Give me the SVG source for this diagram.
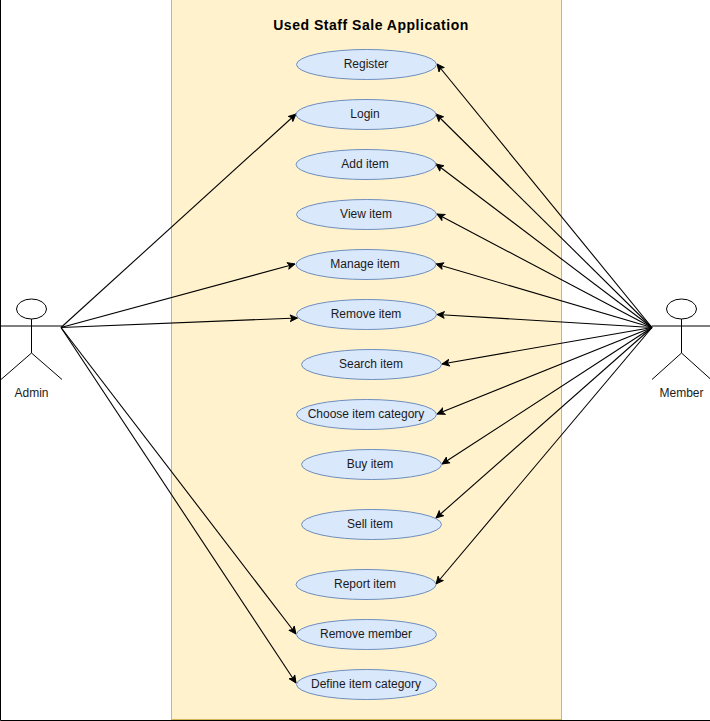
<svg xmlns="http://www.w3.org/2000/svg" width="710" height="721" viewBox="0 0 710 721">
<style>
text{font-family:"Liberation Sans",Arial,sans-serif;font-size:12px;fill:#1a1a1a;text-anchor:middle}
.t{font-size:14px;font-weight:bold;fill:#000;letter-spacing:.52px}
.u ellipse{fill:#dae8fc;stroke:#6c8ebf;stroke-width:1}
.a ellipse,.a path{fill:#fff;stroke:#000;stroke-width:1}
.a path{fill:none}
#connectors line{stroke:#000;stroke-width:1.100;marker-end:url(#arr)}
</style>
<defs><marker id="arr" viewBox="0 0 10 10" refX="9" refY="5" markerWidth="9" markerHeight="9" markerUnits="userSpaceOnUse" orient="auto"><path d="M0.800 1.200L9 5L0.800 8.800L2.800 5Z" fill="#000" stroke="#000" stroke-width="1"/></marker></defs>
<rect x="0" y="0" width="710" height="721" fill="#fff"/>
<path d="M0.500 0V720.500H710" fill="none" stroke="#000" stroke-width="1"/>
<g id="system"><rect x="171.500" y="-1" width="390" height="720.500" fill="#fff2cc" stroke="#d6b656"/>
<text class="t" x="371" y="30">Used Staff Sale Application</text></g>
<g id="connectors">
<line x1="61" y1="327.500" x2="296" y2="114"/>
<line x1="61" y1="327.500" x2="295" y2="264"/>
<line x1="61" y1="327.500" x2="297.500" y2="318"/>
<line x1="61" y1="327.500" x2="296" y2="634"/>
<line x1="61" y1="327.500" x2="296" y2="683"/>
<line x1="652" y1="327.500" x2="437" y2="64"/>
<line x1="652" y1="327.500" x2="436" y2="114"/>
<line x1="652" y1="327.500" x2="436" y2="164"/>
<line x1="652" y1="327.500" x2="437" y2="214"/>
<line x1="652" y1="327.500" x2="436" y2="264"/>
<line x1="652" y1="327.500" x2="437" y2="314.500"/>
<line x1="652" y1="327.500" x2="442" y2="364"/>
<line x1="652" y1="327.500" x2="437" y2="414"/>
<line x1="652" y1="327.500" x2="442" y2="464"/>
<line x1="652" y1="327.500" x2="436" y2="518"/>
<line x1="652" y1="327.500" x2="436" y2="584"/>
</g>
<g id="admin" class="a"><ellipse cx="31.500" cy="309" rx="15" ry="10"/><path d="M31.500 319V353M0 326H62M31.500 353L1 379.500M31.500 353L62 379.500"/><text x="31.500" y="397">Admin</text></g>
<g id="member" class="a"><ellipse cx="681.500" cy="309" rx="15" ry="10"/><path d="M681.500 319V353M652 326H710M681.500 353L652 379.500M681.500 353L711 379.500"/><text x="681.500" y="397">Member</text></g>
<g id="u1" class="u"><ellipse cx="366.500" cy="64.500" rx="70" ry="15"/><text x="366" y="68">Register</text></g>
<g id="u2" class="u"><ellipse cx="366" cy="114.500" rx="70" ry="15"/><text x="365" y="118">Login</text></g>
<g id="u3" class="u"><ellipse cx="366" cy="164.500" rx="70" ry="15"/><text x="365" y="168">Add item</text></g>
<g id="u4" class="u"><ellipse cx="366.500" cy="214.500" rx="70" ry="15"/><text x="366" y="218">View item</text></g>
<g id="u5" class="u"><ellipse cx="366" cy="264.500" rx="70" ry="15"/><text x="365" y="268">Manage item</text></g>
<g id="u6" class="u"><ellipse cx="366.500" cy="314.500" rx="70" ry="15"/><text x="366" y="318">Remove item</text></g>
<g id="u7" class="u"><ellipse cx="371.500" cy="364.500" rx="70" ry="15"/><text x="371" y="368">Search item</text></g>
<g id="u8" class="u"><ellipse cx="366.500" cy="414.500" rx="70" ry="15"/><text x="366" y="418">Choose item category</text></g>
<g id="u9" class="u"><ellipse cx="371.500" cy="464.500" rx="70" ry="15"/><text x="370" y="468">Buy item</text></g>
<g id="u10" class="u"><ellipse cx="371.500" cy="524.500" rx="70" ry="15"/><text x="370" y="528">Sell item</text></g>
<g id="u11" class="u"><ellipse cx="366" cy="584.500" rx="70" ry="15"/><text x="365" y="588">Report item</text></g>
<g id="u12" class="u"><ellipse cx="366.500" cy="634.500" rx="70" ry="15"/><text x="366" y="638">Remove member</text></g>
<g id="u13" class="u"><ellipse cx="366.500" cy="684.500" rx="70" ry="15"/><text x="366" y="688">Define item category</text></g>
</svg>
